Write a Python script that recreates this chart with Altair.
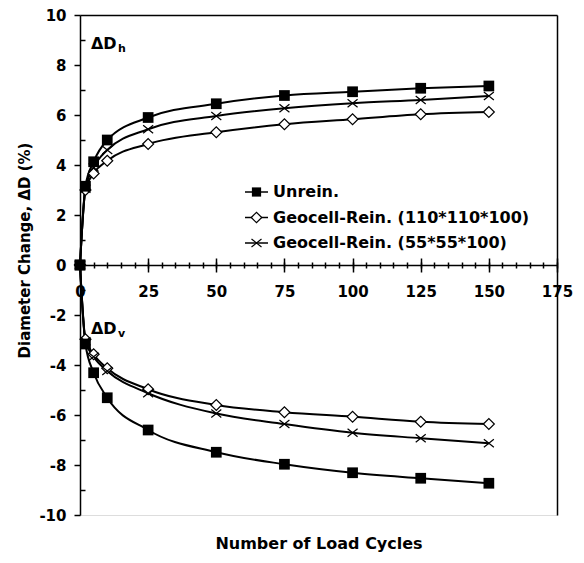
import altair as alt
import pandas as pd

cycles = [0, 2, 5, 10, 25, 50, 75, 100, 125, 150]
series_names = ["Unrein.", "Geocell-Rein. (110*110*100)", "Geocell-Rein. (55*55*100)"]

unrein_h = [0, 3.15, 4.13, 5.0, 5.9, 6.45, 6.78, 6.93, 7.07, 7.16]
geo110_h = [0, 3.0, 3.66, 4.17, 4.84, 5.31, 5.63, 5.83, 6.03, 6.12]
geo55_h = [0, 3.05, 3.9, 4.6, 5.43, 5.96, 6.27, 6.47, 6.6, 6.76]
unrein_v = [0, -3.16, -4.31, -5.31, -6.6, -7.49, -7.97, -8.31, -8.53, -8.73]
geo110_v = [0, -2.97, -3.57, -4.13, -4.97, -5.6, -5.89, -6.07, -6.27, -6.36]
geo55_v = [0, -3.05, -3.67, -4.24, -5.13, -5.94, -6.36, -6.71, -6.93, -7.13]

x_major = [0, 25, 50, 75, 100, 125, 150, 175]
x_minor = list(range(0, 176, 5))
y_major = [-10, -8, -6, -4, -2, 0, 2, 4, 6, 8, 10]
y_minor = [-9, -7, -5, -3, -1, 1, 3, 5, 7, 9]

ann_text = ["ΔD", "ΔD"]
ann_sub = ["h", "v"]
ann_x = [4, 4]
ann_y = [8.85, -2.55]

FONT = "DejaVu Sans"

rows = []
for name, h, v in zip(series_names, [unrein_h, geo110_h, geo55_h], [unrein_v, geo110_v, geo55_v]):
    for c, a in zip(cycles, h):
        rows.append({"series": name, "comp": "h", "cycles": c, "val": a})
    for c, a in zip(cycles, v):
        rows.append({"series": name, "comp": "v", "cycles": c, "val": a})
df = pd.DataFrame(rows)
df["key"] = df["series"] + "_" + df["comp"]

ann_df = pd.DataFrame({"t": ann_text, "s": ann_sub, "x": ann_x, "y": ann_y})
leg_df = pd.DataFrame({"series": series_names, "row": list(range(len(series_names)))})

xs = alt.Scale(domain=[0, 175], nice=False, zero=False)
ys = alt.Scale(domain=[-10, 10], nice=False)

def ax(**kw):
    base = dict(grid=False, domainColor="black", tickColor="black", domainWidth=1.5,
                tickWidth=1.5, labelFont=FONT, labelFontWeight="bold", labelFontSize=15,
                labelColor="black", titleFont=FONT, titleFontWeight="bold",
                titleFontSize=16, titleColor="black")
    base.update(kw)
    return alt.Axis(**base)

base = alt.Chart(df)

lines = base.mark_line(color="black", strokeWidth=2, interpolate="monotone").encode(
    x=alt.X("cycles:Q", scale=xs, axis=ax(orient="bottom", offset=-250, values=x_major,
            tickSize=7, labelPadding=12, title=None, labelFlush=False)),
    y=alt.Y("val:Q", scale=ys, axis=ax(orient="left", values=y_major, tickSize=6,
            labelPadding=8, labelExpr="toString(datum.value)",
            title="Diameter Change, ΔD (%)", titleFontSize=15, titleX=-56, titleY=235,
            titleBaseline="middle", titleAngle=-90, titleAlign="center")),
    detail="key:N",
)

pts_dia = base.transform_filter(alt.datum.series == series_names[1]).mark_point(
    shape="diamond", filled=True, fill="white", stroke="black", strokeWidth=1.2, size=120, opacity=1
).encode(
    x=alt.X("cycles:Q", scale=xs, axis=ax(orient="bottom", offset=-250, values=x_minor,
            tickSize=3, labels=False, domain=False, title=None)),
    y=alt.Y("val:Q", scale=ys, axis=ax(orient="right", offset=0, ticks=False,
            labels=False, domain=True, title=None)),
)

cross_path = "M-1,-0.8L1,0.8M-1,0.8L1,-0.8"
pts_x = base.transform_filter(alt.datum.series == series_names[2]).mark_point(
    shape=cross_path, filled=False, stroke="black", strokeWidth=1.2, size=100, opacity=1
).encode(
    x=alt.X("cycles:Q", scale=xs, axis=ax(orient="top", offset=-250, values=x_minor,
            tickSize=3, labels=False, domain=False, title=None)),
    y=alt.Y("val:Q", scale=ys, axis=None),
)

pts_sq = base.transform_filter(alt.datum.series == series_names[0]).mark_point(
    shape="square", filled=True, color="black", size=115, opacity=1
).encode(
    x=alt.X("cycles:Q", scale=xs, axis=ax(orient="top", offset=-250, values=x_major,
            tickSize=7, labels=False, domain=False, title=None)),
    y=alt.Y("val:Q", scale=ys, axis=ax(orient="right", offset=-477, values=y_minor,
            tickSize=5, labels=False, domain=False, title=None)),
)

ann = alt.Chart(ann_df).mark_text(font=FONT, fontWeight="bold", fontSize=16, align="left",
                                  baseline="middle", color="black").encode(
    x=alt.X("x:Q", scale=xs, axis=ax(orient="top", offset=0, ticks=False, labels=False,
            domain=True, title=None)),
    y=alt.Y("y:Q", scale=ys, axis=None),
    text="t:N",
)
ann_s = alt.Chart(ann_df).mark_text(font=FONT, fontWeight="bold", fontSize=11, align="left",
                                    baseline="middle", color="black", dx=27, dy=5).encode(
    x=alt.X("x:Q", scale=xs, axis=ax(orient="bottom", offset=0, ticks=False, labels=False,
            domain=False, title="Number of Load Cycles", titlePadding=20)),
    y=alt.Y("y:Q", scale=ys, axis=None),
    text="s:N",
)

# manual legend (guide), rows placed by a linear scale on row index
leg_y = alt.Y("row:Q", scale=alt.Scale(domain=[0, 2], range=[177, 228], nice=False, zero=False), axis=None)
leg_base = alt.Chart(leg_df)
leg_rule = leg_base.mark_rule(color="black", strokeWidth=1.5).encode(
    x=alt.value(165), x2=alt.value(188), y=leg_y)
leg_sq = leg_base.transform_filter(alt.datum.series == series_names[0]).mark_point(
    shape="square", filled=True, color="black", size=85, opacity=1).encode(
    x=alt.value(176.5), y=leg_y)
leg_dia = leg_base.transform_filter(alt.datum.series == series_names[1]).mark_point(
    shape="diamond", filled=True, fill="white", stroke="black", strokeWidth=1.2, size=110, opacity=1).encode(
    x=alt.value(176.5), y=leg_y)
leg_x = leg_base.transform_filter(alt.datum.series == series_names[2]).mark_point(
    shape=cross_path, filled=False, stroke="black", strokeWidth=1.2, size=100, opacity=1).encode(
    x=alt.value(176.5), y=leg_y)
leg_txt = leg_base.mark_text(font=FONT, fontWeight="bold", fontSize=16, align="left",
                             baseline="middle", color="black").encode(
    x=alt.value(193), y=leg_y, text="series:N")
legend = alt.layer(leg_rule, leg_sq, leg_dia, leg_x, leg_txt)

chart = alt.layer(lines, pts_dia, pts_x, pts_sq, ann, ann_s, legend).resolve_axis(
    x="independent", y="independent"
).resolve_scale(y="independent").properties(
    width=477, height=500,
    padding={"left": 80, "top": 15, "right": 27, "bottom": 48},
    autosize=alt.AutoSizeParams(type="none"),
).configure_view(stroke=None).configure(background="white")

chart.save("out.html", embed_options={"renderer": "svg", "actions": False})
